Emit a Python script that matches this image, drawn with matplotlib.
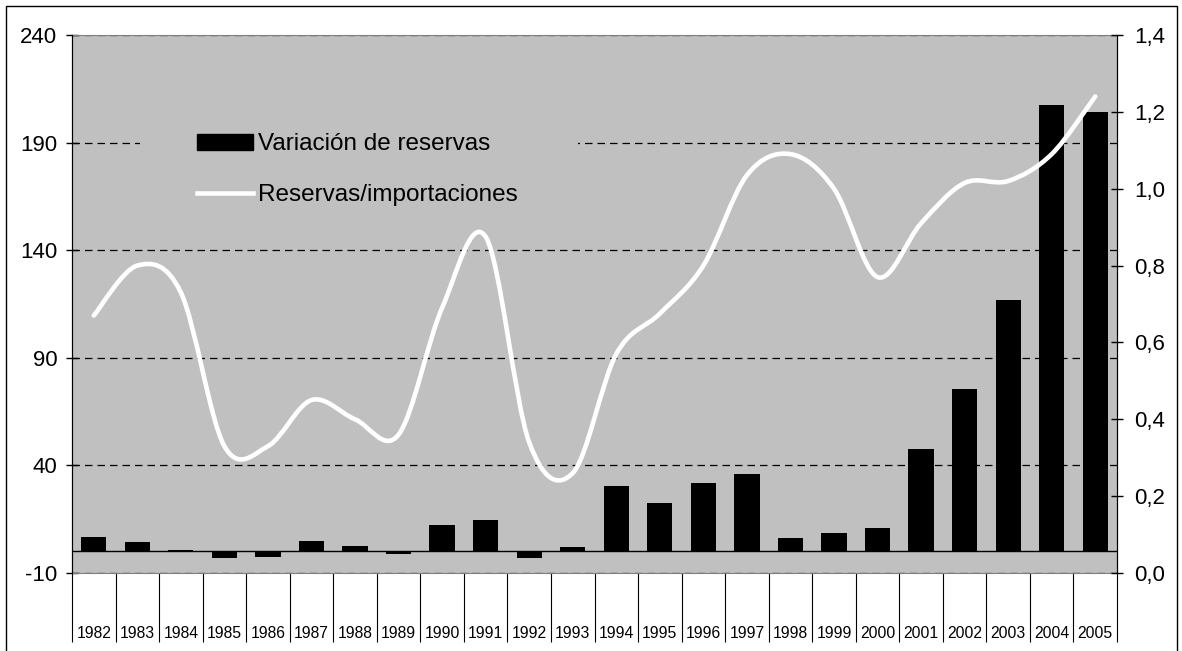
import matplotlib.pyplot as plt
import numpy as np
from matplotlib.path import Path
from matplotlib.patches import PathPatch, Patch, Rectangle
from matplotlib.lines import Line2D
from matplotlib.ticker import FuncFormatter

plt.rcParams['font.family'] = ['Liberation Sans', 'DejaVu Sans']
plt.rcParams['axes.unicode_minus'] = False

years = ['1982', '1983', '1984', '1985', '1986', '1987', '1988', '1989',
         '1990', '1991', '1992', '1993', '1994', '1995', '1996', '1997',
         '1998', '1999', '2000', '2001', '2002', '2003', '2004', '2005']

# variación de reservas (eje izquierdo)
variacion = [6.6, 4.3, 0.6, -3.2, -2.7, 4.9, 2.6, -1.3, 12.1, 14.6, -2.9, 2.0,
             30.5, 22.7, 32.0, 36.2, 6.4, 8.7, 10.8, 47.8, 75.5, 116.9, 207.3, 204.1]

# reservas / importaciones (eje derecho)
ratio = [0.67, 0.80, 0.73, 0.33, 0.33, 0.45, 0.40, 0.36, 0.69, 0.875, 0.34, 0.26,
         0.57, 0.675, 0.80, 1.035, 1.09, 1.0, 0.77, 0.91, 1.015, 1.02, 1.09, 1.24]

left_ticks = [-10, 40, 90, 140, 190, 240]
right_ticks = [0.0, 0.2, 0.4, 0.6, 0.8, 1.0, 1.2, 1.4]

GRAY = '#c0c0c0'


def smooth_path(xs, ys):
    # curva tipo Excel (Bezier por Catmull-Rom)
    pts = np.column_stack([xs, ys]).astype(float)
    n = len(pts)
    verts = [pts[0]]
    codes = [Path.MOVETO]
    for i in range(n - 1):
        p0 = pts[max(i - 1, 0)]
        p1 = pts[i]
        p2 = pts[i + 1]
        p3 = pts[min(i + 2, n - 1)]
        verts += [p1 + (p2 - p0) / 6, p2 - (p3 - p1) / 6, p2]
        codes += [Path.CURVE4] * 3
    return Path(verts, codes)


fig = plt.figure(figsize=(11.82, 6.51), dpi=100)
ax = fig.add_axes([72 / 1182, 1 - 573 / 651, 1045 / 1182, 538 / 651])
ax.set_facecolor(GRAY)

x = np.arange(len(years))
ax.bar(x, variacion, width=0.58, color='black', zorder=2)
ax.axhline(0, color='black', lw=1, zorder=3)

ax.set_xlim(-0.5, len(years) - 0.5)
ax.set_ylim(-10, 240)
ax.set_yticks(left_ticks)
ax.yaxis.grid(True, color='black', lw=0.9, linestyle=(0, (6, 4)), zorder=1)
ax.set_axisbelow(True)

ax.set_xticks(x)
ax.set_xticklabels(years, fontsize=11.3)
ax.set_xticks(np.arange(len(years) + 1) - 0.5, minor=True)
ax.tick_params(axis='x', which='major', length=0, pad=38)
ax.tick_params(axis='x', which='minor', length=50, width=0.8, direction='out', color='black')
ax.tick_params(axis='y', direction='inout', length=9, width=1, labelsize=16, pad=6)

for side in ['top', 'bottom']:
    ax.spines[side].set_color('#808080')
ax.spines['left'].set_color('black')
ax.spines['right'].set_color('black')

ax2 = ax.twinx()
ax2.set_ylim(0, 1.4)
ax2.set_yticks(right_ticks)
ax2.yaxis.set_major_formatter(FuncFormatter(lambda v, p: f'{v:.1f}'.replace('.', ',')))
ax2.tick_params(axis='y', direction='inout', length=9, width=1, labelsize=16, pad=8)
for side in ['top', 'bottom']:
    ax2.spines[side].set_visible(False)
ax2.spines['right'].set_color('black')

ax2.add_patch(PathPatch(smooth_path(x, ratio), facecolor='none', edgecolor='white',
                        lw=3.3, capstyle='round', zorder=3))

# fondo de la leyenda tapa la línea de cuadrícula
ax2.add_patch(Rectangle((0.065, 0.775), 0.419, 0.05, transform=ax2.transAxes,
                        facecolor=GRAY, edgecolor='none', zorder=4))

handles = [Patch(facecolor='black', edgecolor='black'),
           Line2D([0], [0], color='white', lw=3.3)]
ax2.legend(handles, ['Variación de reservas', 'Reservas/importaciones'],
           loc='upper left', bbox_to_anchor=(0.1196, 0.817), frameon=False,
           fontsize=17.5, handlelength=2.3, handleheight=0.65, handletextpad=0.2,
           labelspacing=1.17, borderpad=0, borderaxespad=0)

# borde exterior
fig.patches.append(Rectangle((6 / 1182, -0.01), 1171 / 1182, 1 - 6 / 651 + 0.01,
                             transform=fig.transFigure, fill=False,
                             edgecolor='black', lw=1))

fig.savefig('out.png', dpi=100)
